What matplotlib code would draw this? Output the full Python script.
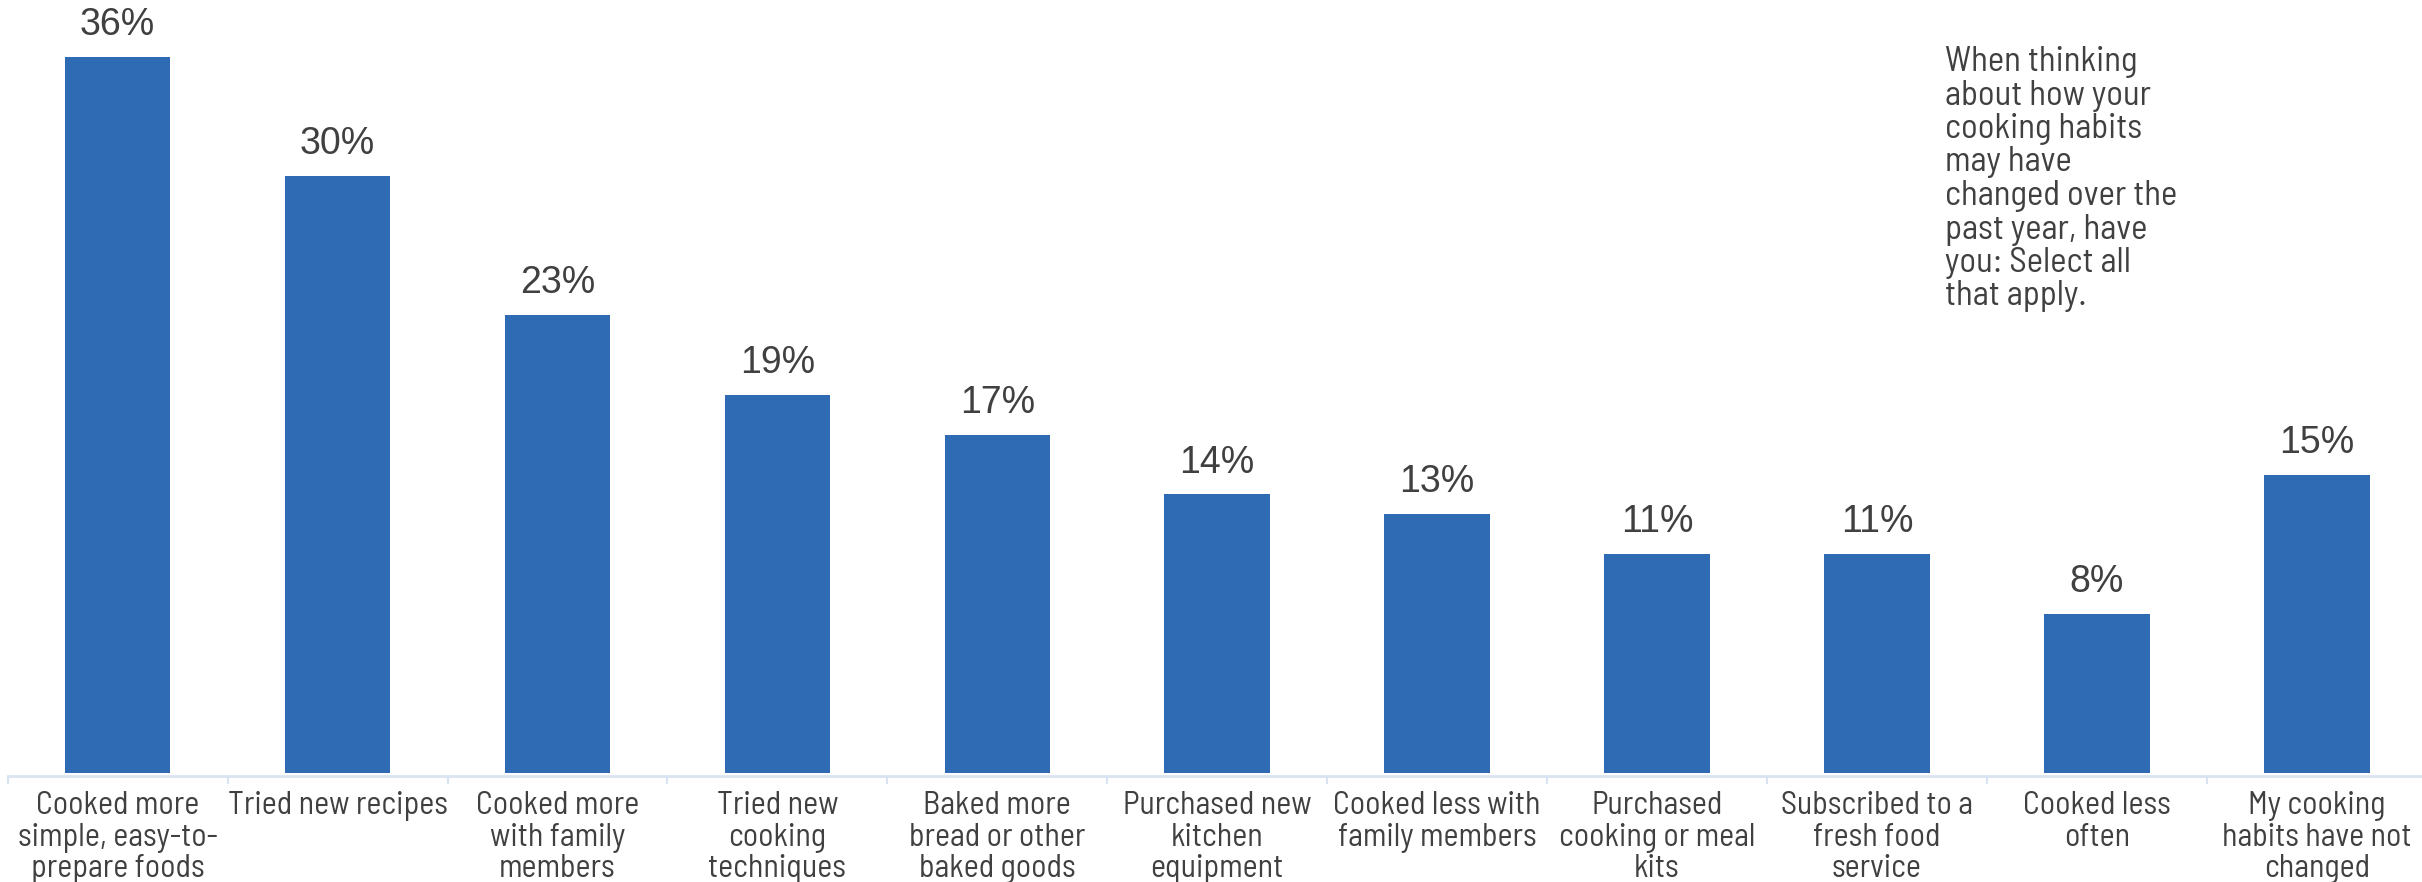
import matplotlib.pyplot as plt
import numpy as np

# survey results, % of respondents
categories = [
    "Cooked more\nsimple, easy-to-\nprepare foods",
    "Tried new recipes",
    "Cooked more\nwith family\nmembers",
    "Tried new\ncooking\ntechniques",
    "Baked more\nbread or other\nbaked goods",
    "Purchased new\nkitchen\nequipment",
    "Cooked less with\nfamily members",
    "Purchased\ncooking or meal\nkits",
    "Subscribed to a\nfresh food\nservice",
    "Cooked less\noften",
    "My cooking\nhabits have not\nchanged",
]
values = [36, 30, 23, 19, 17, 14, 13, 11, 11, 8, 15]

question = ("When thinking\nabout how your\ncooking habits\nmay have\n"
            "changed over the\npast year, have\nyou: Select all\nthat apply.")

bar_color = "#2F6AB5"
text_color = "#404040"
axis_color = "#D9E3F1"
narrow = ["Barlow Semi Condensed", "DejaVu Sans"]

fig = plt.figure(figsize=(24.22, 8.82), dpi=100)
ax = fig.add_axes([7.7 / 2422, 109 / 882, 2419 / 2422, 773 / 882])

# spines first: moving a spine rebuilds the tick objects
for side in ["top", "right", "left"]:
    ax.spines[side].set_visible(False)
ax.spines["bottom"].set_color(axis_color)
ax.spines["bottom"].set_linewidth(2)
ax.spines["bottom"].set_position(("outward", 2))

x = np.arange(len(values))
ax.bar(x, values, width=0.48, color=bar_color, zorder=2)

for xi, v in zip(x, values):
    ax.annotate(f"{v}%", (xi, v), xytext=(0, 10), textcoords="offset points",
                ha="center", va="bottom", fontsize=27,
                family="Liberation Sans", color=text_color)

ax.set_xlim(-0.5, len(values) - 0.5)
ax.set_ylim(0, 38.85)
ax.set_yticks([])

# category boundaries get the small ticks, labels sit at bar centres
ax.set_xticks(np.arange(-0.5, len(values), 1), minor=True)
ax.tick_params(axis="x", which="minor", length=6, width=1.5, color=axis_color)
ax.set_xticks(x)
ax.tick_params(axis="x", which="major", length=0, pad=11)
ax.set_xticklabels(categories, fontsize=23, family=narrow, color=text_color,
                   linespacing=1.07)

fig.text(1945 / 2422, 1 - 46 / 882, question, ha="left", va="top",
         fontsize=25, family=narrow, color=text_color, linespacing=1.06)

fig.savefig("out.png", dpi=100)
